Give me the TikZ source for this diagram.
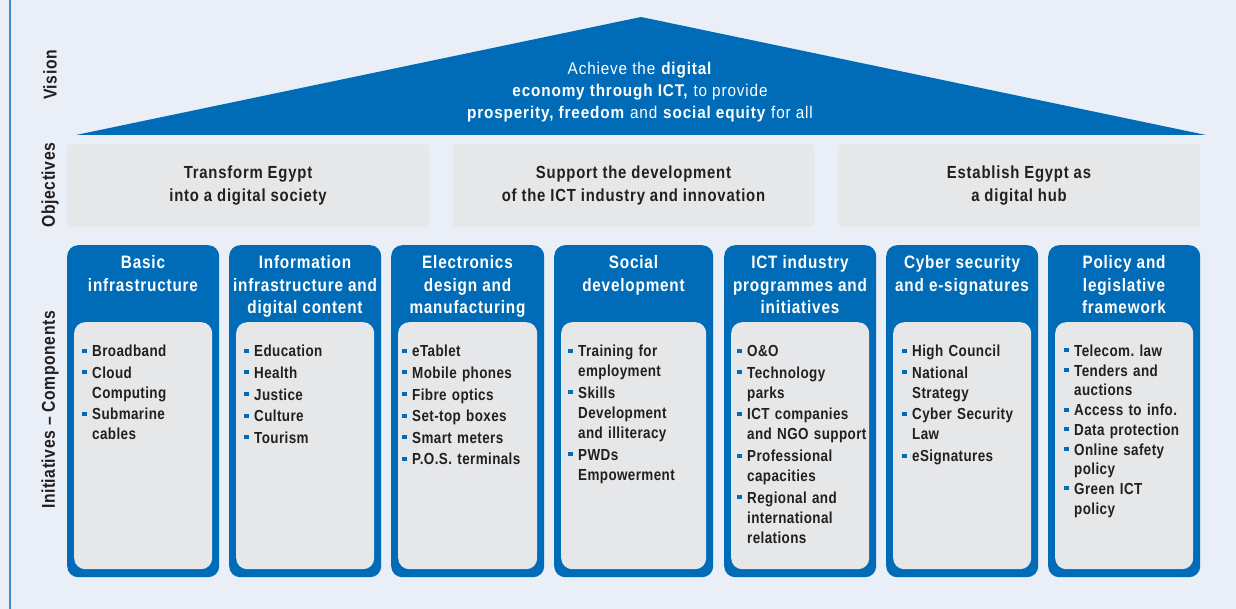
\documentclass[tikz,border=0pt]{standalone}
\usepackage{fontspec}
\setmainfont{Liberation Sans}
\newfontfamily\visfont{Liberation Sans}[FakeStretch=0.9,LetterSpace=5]
\newfontfamily\headfont{Liberation Sans}[FakeStretch=0.85,LetterSpace=4.5]
\newfontfamily\listfont{Liberation Sans}[FakeStretch=0.84,LetterSpace=2.5]
\newfontfamily\sidefont{Liberation Sans}[FakeStretch=0.85,LetterSpace=3]
\frenchspacing

\definecolor{ictblue}{RGB}{0,108,183}
\definecolor{bgpanel}{RGB}{234,238,247}
\definecolor{boxgray}{RGB}{230,231,233}
\definecolor{inkdark}{RGB}{35,31,32}
\definecolor{edgeblue}{RGB}{60,140,210}

% bullet item with hanging indent
\newcommand\itm{\par\hangindent=10pt\hangafter=1\noindent
  \hbox to 10pt{\textcolor{ictblue}{\rule[4pt]{4.5pt}{4pt}}\hss}}

% one pillar: [list style]{id}{x}{width}{heading}{text offset}{items}
\newcommand\pillar[7][]{%
  \node[pillarbox, minimum width=#4pt, anchor=north west] (p#2) at (#3,245) {};
  \node[innerbox, minimum width={#4pt-14pt}, anchor=north west] (c#2) at (#3+7,322) {};
  \node[headtext, anchor=north] (h#2) at (#3+#4/2,255.5) {#5};
  \node[listtext, #1, anchor=north west] (l#2) at (#3+#6-10,\listtop) {#7\par};
}

\tikzset{
  pillarbox/.style={fill=ictblue, rounded corners=11pt, minimum height=332pt, inner sep=0pt},
  innerbox/.style={fill=boxgray, rounded corners=11pt, minimum height=247pt, inner sep=0pt},
  headtext/.style={text=white, align=center, inner sep=0pt,
    font=\headfont\bfseries\fontsize{18}{22.5}\selectfont},
  listtext/.style={text=inkdark, inner sep=0pt, text width=150pt,
    font=\listfont\bfseries\fontsize{16}{20}\selectfont,
    execute at begin node={\setlength\parskip{1.6pt}}},
  tightlist/.style={font=\listfont\bfseries\fontsize{16}{19.5}\selectfont,
    execute at begin node={\setlength\parskip{0.3pt}}},
  objbox/.style={fill=boxgray, rounded corners=4pt, minimum width=362pt, minimum height=83pt,
    inner sep=0pt, align=center, text=inkdark,
    font=\headfont\bfseries\fontsize{17.5}{23}\selectfont},
  vistext/.style={text=white, align=center, inner sep=0pt,
    font=\visfont\fontsize{17}{22}\selectfont},
  sidetext/.style={text=inkdark, inner sep=0pt, rotate=90,
    font=\sidefont\bfseries\fontsize{18.5}{22}\selectfont}
}

\begin{document}
\begin{tikzpicture}[x=1pt,y=-1pt]
  \useasboundingbox (0,0) rectangle (1236,609);
  \fill[bgpanel] (0,0) rectangle (1236,609);
  \draw[edgeblue, line width=1.2pt] (10,0) -- (10,609);

  % roof with the vision
  \fill[ictblue] (76,135) -- (641,17) -- (1206,135) -- cycle;
  \node[vistext, anchor=north] (vision) at (640,61.5)
    {Achieve the \textbf{digital}\\
     \textbf{economy through ICT,} to provide\\
     \textbf{prosperity, freedom} and \textbf{social equity} for all};

  % objectives
  \node[objbox] (o1) at (248,185.5) {Transform Egypt\\into a digital society};
  \node[objbox] (o2) at (633.5,185.5) {Support the development\\of the ICT industry and innovation};
  \node[objbox] (o3) at (1019,185.5) {Establish Egypt as\\a digital hub};

  % row labels
  \node[sidetext] (lvis) at (50,75) {Vision};
  \node[sidetext] (lobj) at (50,185) {Objectives};
  \node[sidetext] (lini) at (50,410) {Initiatives – Components};

  % pillars
  \def\listtop{335}
  \pillar{1}{67}{152}{Basic\\infrastructure}{25}
    {\itm Broadband\itm Cloud\newline Computing\itm Submarine\newline cables}
  \pillar{2}{229}{152}{Information\\infrastructure and\\digital content}{25}
    {\itm Education\itm Health\itm Justice\itm Culture\itm Tourism}
  \pillar{3}{391}{153}{Electronics\\design and\\manufacturing}{21}
    {\itm eTablet\itm Mobile phones\itm Fibre optics\itm Set-top boxes\itm Smart meters\itm P.O.S. terminals}
  \pillar{4}{554}{159}{Social\\development}{24}
    {\itm Training for\newline employment\itm Skills\newline Development\newline and illiteracy\itm PWDs\newline Empowerment}
  \pillar{5}{724}{152}{ICT industry\\programmes and\\initiatives}{23}
    {\itm O\&O\itm Technology\newline parks\itm ICT companies\newline and NGO support\itm Professional\newline capacities\itm Regional and\newline international\newline relations}
  \pillar{6}{886}{152}{Cyber security\\and e-signatures}{26}
    {\itm High Council\itm National\newline Strategy\itm Cyber Security\newline Law\itm eSignatures}
  \def\listtop{336.5}
  \pillar[tightlist]{7}{1048}{152}{Policy and\\legislative\\framework}{26}
    {\itm Telecom. law\itm Tenders and\newline auctions\itm Access to info.\itm Data protection\itm Online safety\newline policy\itm Green ICT\newline policy}
\end{tikzpicture}
\end{document}
